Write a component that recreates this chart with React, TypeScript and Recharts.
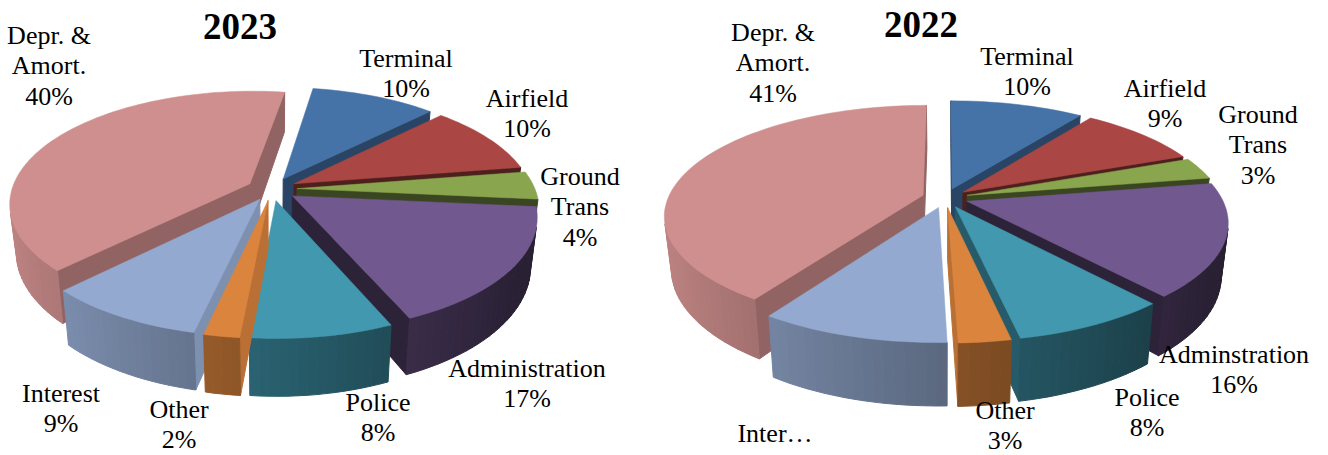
import React from "react";
import { PieChart, Pie } from "recharts";

// ---- data (Depr. & Amort. first so the pie starts where it is painted from) ----
const categories = ["Depr. & Amort.", "Terminal", "Airfield", "Ground Trans", "Administration", "Police", "Other", "Interest"];
const values2023 = [40, 10, 10, 4, 17, 8, 2, 9];
const values2022 = [40.7, 10, 9.1, 3.2, 16.4, 8.1, 2.7, 9.8];
const labels2023 = [["Depr. &", "Amort.", "40%"], ["Terminal", "10%"], ["Airfield", "10%"], ["Ground", "Trans", "4%"], ["Administration", "17%"], ["Police", "8%"], ["Other", "2%"], ["Interest", "9%"]];
const labels2022 = [["Depr. &", "Amort.", "41%"], ["Terminal", "10%"], ["Airfield", "9%"], ["Ground", "Trans", "3%"], ["Adminstration", "16%"], ["Police", "8%"], ["Other", "3%"], ["Inter…"]];

// ---- style ----
const colors = ["#CF8F8E", "#4572A7", "#AA4643", "#89A54E", "#71588F", "#4198AF", "#DB843D", "#93A9CF"];
const wallShade = [0.7, 0.6, 0.45, 0.42, 0.4, 0.6, 0.85, 0.85];
const FONT = "'Liberation Serif', 'Times New Roman', serif";

// ---- layout ----
const view2023 = { cx: 272, cy: 189, r: 238, p: 0.17, ry: 110, depth: 47, explode: 25, rot: 9 };
const view2022 = { cx: 945, cy: 198, r: 255, p: 0.18, ry: 107, depth: 51, explode: 23, rot: 0 };
const anchors2023 = [[49, 35], [406, 58], [527, 98], [580, 176], [527, 368], [378, 402], [179, 409], [61, 393]];
const anchors2022 = [[773, 32], [1027, 56], [1165, 88], [1258, 114], [1234, 354], [1147, 397], [1005, 410], [775, 433]];
const LINE = 30.5;
const BOTTOM_SCALE = 0.025;
// Pies are painted in these groups, so the front slices lie over their neighbours.
const paintLayers = [[0, 1, 2, 3, 4], [7], [5], [6]];

const table = (vals: number[]) => categories.map((name, i) => ({ name, value: vals[i], fill: colors[i] }));

function shade(hex: string, f: number) {
  const n = parseInt(hex.slice(1), 16);
  const c = (v: number) => Math.max(0, Math.min(255, Math.round(v * f)));
  return `rgb(${c((n >> 16) & 255)},${c((n >> 8) & 255)},${c(n & 255)})`;
}
const rad = (d: number) => (d * Math.PI) / 180;
const pts = (a: number[][]) => a.map((q) => `${q[0].toFixed(1)},${q[1].toFixed(1)}`).join(" ");
const area = (a: number[][]) => a.reduce((s, q, i) => {
  const n = a[(i + 1) % a.length];
  return s + q[0] * n[1] - n[0] * q[1];
}, 0);

function makeShape(v: typeof view2023, only: number[]) {
  return function Slice3D(props: any) {
    const { cx, cy, outerRadius: R, startAngle, endAngle, fill, index } = props;
    if (!only.includes(index)) return <g />;
    const t1 = 90 - startAngle;
    const t2 = 90 - endAngle;
    const mid = rad((t1 + t2) / 2);
    const P = (theta: number, rr: number, z: number) => {
      const a = rad(theta);
      const dx = rr * Math.sin(a) + v.explode * Math.sin(mid);
      const dy = -rr * Math.cos(a) - v.explode * Math.cos(mid);
      const s = 1 / (1 - (v.p * dy) / R);
      const shrink = 1 - (BOTTOM_SCALE * z) / v.depth;
      return [cx + dx * s * shrink, cy + ((v.ry * dy) / R) * s + z * s];
    };
    const n = Math.max(2, Math.ceil((t2 - t1) / 2));
    const angs = Array.from({ length: n + 1 }, (_, i) => t1 + ((t2 - t1) * i) / n);
    const wall = shade(fill, wallShade[index % wallShade.length]);
    const faces: React.ReactNode[] = [];
    const add = (q: number[][], col: string, key: string) => {
      if (area(q) < 0) faces.push(<polygon key={key} points={pts(q)} fill={col} stroke={col} strokeWidth={1} />);
    };
    add([P(t1, R, 0), P(t1, R, v.depth), P(t1, 0, v.depth), P(t1, 0, 0)], wall, "s");
    add([P(t2, R, v.depth), P(t2, R, 0), P(t2, 0, 0), P(t2, 0, v.depth)], wall, "e");
    for (let i = 0; i < n; i++) {
      const a = angs[i];
      const b = angs[i + 1];
      const nx = Math.sin(rad((a + b) / 2));
      const f = Math.max(0.36, 0.62 - 0.3 * nx);
      const col = shade(fill, f);
      add([P(a, R, 0), P(b, R, 0), P(b, R, v.depth), P(a, R, v.depth)], col, "o" + i);
    }
    const top = [P(t1, 0, 0), ...angs.map((a) => P(a, R, 0))];
    return (
      <g>
        {faces}
        <polygon points={pts(top)} fill={fill} stroke={fill} strokeWidth={0.5} />
      </g>
    );
  };
}

function makeLabel(lines: string[][], anchors: number[][]) {
  return function SliceLabel(props: any) {
    const i = props.index;
    return (
      <text textAnchor="middle" fontFamily={FONT} fontSize={26} fill="#000">
        {lines[i].map((t, k) => (
          <tspan key={k} x={anchors[i][0]} y={anchors[i][1] + 8.5 + k * LINE}>{t}</tspan>
        ))}
      </text>
    );
  };
}

const start = (vals: number[], rot: number) => {
  const total = vals.reduce((a, b) => a + b, 0);
  return 90 - rot + (vals[0] / total) * 360;
};

function renderPie(vals: number[], v: typeof view2023, lines: string[][], anchors: number[][], key: string) {
  const s = start(vals, v.rot);
  return paintLayers.map((only, li) => (
    <Pie
      key={key + li}
      data={table(vals)}
      dataKey="value"
      nameKey="name"
      cx={v.cx}
      cy={v.cy}
      innerRadius={0}
      outerRadius={v.r}
      startAngle={s}
      endAngle={s - 360}
      stroke="none"
      isAnimationActive={false}
      shape={makeShape(v, only)}
      label={li === paintLayers.length - 1 ? makeLabel(lines, anchors) : false}
      labelLine={false}
    />
  ));
}

export default function App() {
  return (
    <div style={{ position: "absolute", left: 0, top: 0, width: 1328, height: 455, background: "#fff" }}>
      <PieChart width={1328} height={455} margin={{ top: 0, right: 0, bottom: 0, left: 0 }}>
        {renderPie(values2023, view2023, labels2023, anchors2023, "y2023")}
        {renderPie(values2022, view2022, labels2022, anchors2022, "y2022")}
        <text x={240} y={39} textAnchor="middle" fontFamily={FONT} fontSize={37} fontWeight="bold" fill="#000">2023</text>
        <text x={921} y={37} textAnchor="middle" fontFamily={FONT} fontSize={37} fontWeight="bold" fill="#000">2022</text>
      </PieChart>
    </div>
  );
}
